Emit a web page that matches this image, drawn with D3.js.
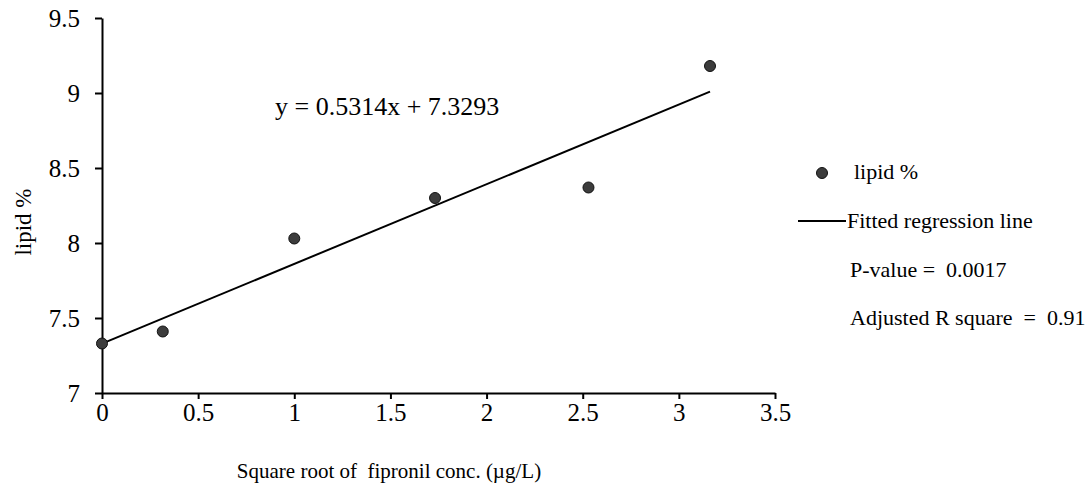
<!DOCTYPE html>
<html>
<head>
<meta charset="utf-8">
<script src="https://cdn.jsdelivr.net/npm/d3@7"></script>
<style>
  body { margin: 0; background: #fff; }
  svg text { font-family: "Liberation Serif", "Times New Roman", serif; fill: #000; }
</style>
</head>
<body>
<div id="container"></div>
<script>
// data
var xValues = [0, 0.316, 1, 1.732, 2.53, 3.162];
var lipid = [7.33, 7.41, 8.03, 8.30, 8.37, 9.18];
var slope = 0.5314;
var intercept = 7.3293;
var xTicks = [0, 0.5, 1, 1.5, 2, 2.5, 3, 3.5];
var yTicks = [7, 7.5, 8, 8.5, 9, 9.5];
var legendNotes = ["P-value =  0.0017", "Adjusted R square  =  0.91"];

var width = 1089, height = 500;
var svg = d3.select("#container").append("svg")
    .attr("width", width)
    .attr("height", height);

var x = d3.scaleLinear().domain([0, 3.5]).range([102, 775]);
var y = d3.scaleLinear().domain([7, 9.5]).range([393, 18]);

// axes
var xAxis = svg.append("g")
    .attr("transform", "translate(0," + y(7) + ")")
    .call(d3.axisBottom(x).tickValues(xTicks).tickSizeInner(6).tickSizeOuter(0)
        .tickFormat(d3.format("")));
var yAxis = svg.append("g")
    .attr("transform", "translate(" + x(0) + ",0)")
    .call(d3.axisLeft(y).tickValues(yTicks).tickSizeInner(7).tickSizeOuter(0)
        .tickFormat(d3.format("")));

[xAxis, yAxis].forEach(function(a) {
    a.select(".domain").attr("stroke", "#000").attr("stroke-width", 2);
    a.selectAll(".tick line").attr("stroke", "#000").attr("stroke-width", 2);
    a.selectAll(".tick text").style("font-size", "25px")
        .style("font-family", "Liberation Serif, Times New Roman, serif");
});
xAxis.selectAll(".tick text").attr("y", 10);
yAxis.selectAll(".tick text").attr("x", -22);

// regression line
var xMax = d3.max(xValues);
svg.append("line")
    .attr("x1", x(0)).attr("y1", y(intercept))
    .attr("x2", x(xMax)).attr("y2", y(slope * xMax + intercept))
    .attr("stroke", "#000").attr("stroke-width", 2);

// points
svg.selectAll("circle.pt")
    .data(xValues)
    .enter().append("circle")
    .attr("class", "pt")
    .attr("cx", function(d) { return x(d); })
    .attr("cy", function(d, i) { return y(lipid[i]); })
    .attr("r", 5.5)
    .attr("fill", "#3c3c3c")
    .attr("stroke", "#111")
    .attr("stroke-width", 1);

// equation
svg.append("text")
    .attr("x", 275).attr("y", 115)
    .style("font-size", "26px")
    .text("y = 0.5314x + 7.3293");

// axis titles
svg.append("text")
    .attr("x", 389).attr("y", 478)
    .attr("text-anchor", "middle")
    .style("font-size", "21px")
    .style("white-space", "pre")
    .text("Square root of  fipronil conc. (\u00b5g/L)");

svg.append("text")
    .attr("transform", "translate(31,222) rotate(-90)")
    .attr("text-anchor", "middle")
    .style("font-size", "23px")
    .text("lipid %");

// legend
var leg = svg.append("g");
leg.append("circle")
    .attr("cx", 822).attr("cy", 173).attr("r", 5.5)
    .attr("fill", "#3c3c3c").attr("stroke", "#111");
leg.append("text")
    .attr("x", 854).attr("y", 179)
    .style("font-size", "22px")
    .text("lipid %");
leg.append("line")
    .attr("x1", 798).attr("x2", 846).attr("y1", 221).attr("y2", 221)
    .attr("stroke", "#000").attr("stroke-width", 2);
leg.append("text")
    .attr("x", 847).attr("y", 228)
    .style("font-size", "22px")
    .text("Fitted regression line");
leg.selectAll("text.note")
    .data(legendNotes)
    .enter().append("text")
    .attr("class", "note")
    .attr("x", 850)
    .attr("y", function(d, i) { return 277 + i * 48; })
    .style("font-size", "22px")
    .style("white-space", "pre")
    .text(function(d) { return d; });
</script>
</body>
</html>
